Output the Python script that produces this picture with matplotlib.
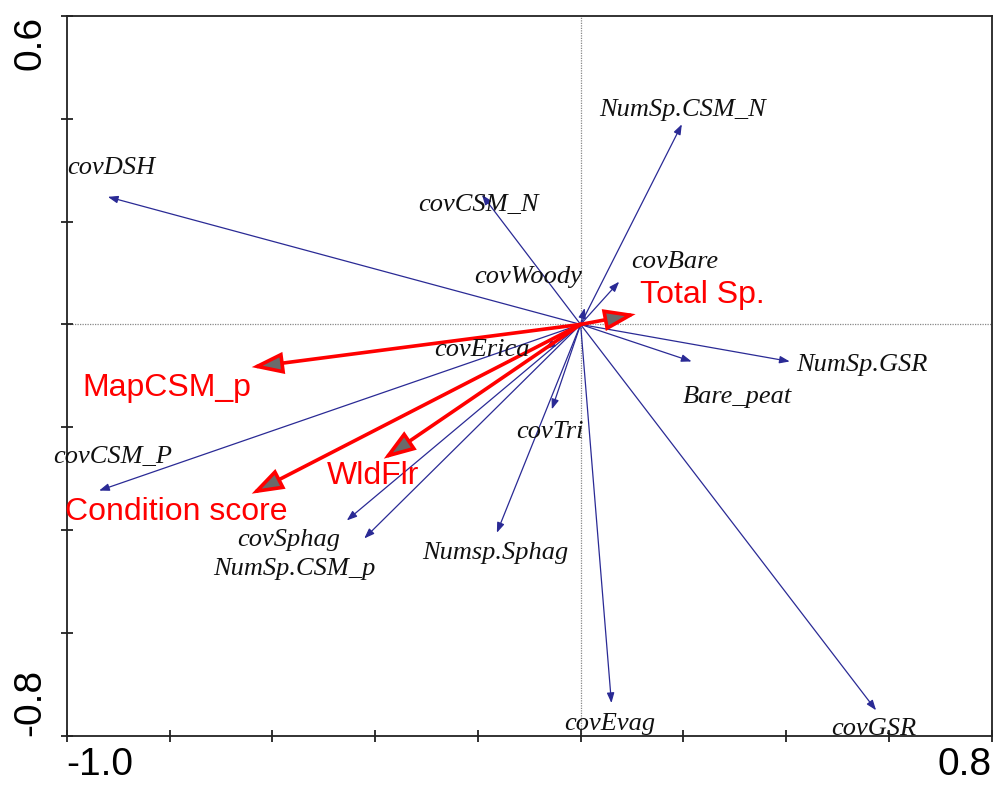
import numpy as np
import matplotlib
matplotlib.use("Agg")
import matplotlib.pyplot as plt

# species / cover variables (blue biplot arrows)
sp_names = ["covDSH", "covCSM_N", "NumSp.CSM_N", "covWoody", "covBare",
            "covErica", "NumSp.GSR", "Bare_peat", "covCSM_P", "covSphag",
            "NumSp.CSM_p", "Numsp.Sphag", "covTri", "covEvag", "covGSR"]
sp_x = [-0.92, -0.192, 0.197, 0.008, 0.075,
        -0.069, 0.407, 0.216, -0.937, -0.455,
        -0.421, -0.163, -0.056, 0.060, 0.575]
sp_y = [0.248, 0.252, 0.389, 0.032, 0.083,
        -0.048, -0.072, -0.072, -0.323, -0.381,
        -0.416, -0.405, -0.165, -0.736, -0.750]

# environmental variables (red arrows)
env_names = ["Total Sp.", "MapCSM_p", "WldFlr", "Condition score"]
env_x = [0.107, -0.64, -0.383, -0.64]
env_y = [0.020, -0.083, -0.261, -0.329]

# where each label sits (left edge, baseline)
sp_label_xy = [(-0.999, 0.293), (-0.317, 0.221), (0.036, 0.406), (-0.208, 0.080),
               (0.098, 0.110), (-0.284, -0.062), (0.419, -0.090), (0.199, -0.152),
               (-1.027, -0.269), (-0.669, -0.430), (-0.715, -0.488), (-0.309, -0.456),
               (-0.126, -0.220), (-0.031, -0.788), (0.488, -0.798)]
env_label_xy = [(0.115, 0.041), (-0.969, -0.139), (-0.494, -0.310), (-1.003, -0.381)]

fig = plt.figure(figsize=(9.93, 7.87), dpi=100)
ax = fig.add_axes([0.0672, 0.0648, 0.9315, 0.9152])
ax.set_xlim(-1.0, 0.8)
ax.set_ylim(-0.8, 0.6)

ax.axhline(0, color="#888888", lw=0.9, ls=(0, (1, 1)), zorder=1)
ax.axvline(0, color="#888888", lw=0.9, ls=(0, (1, 1)), zorder=1)

for x, y in zip(sp_x, sp_y):
    ax.annotate("", xy=(x, y), xytext=(0, 0),
                arrowprops=dict(arrowstyle="-|>,head_length=0.6,head_width=0.22",
                                color="#2a2a95", lw=0.9, mutation_scale=10,
                                shrinkA=0, shrinkB=0), zorder=2)

for x, y in zip(env_x, env_y):
    ax.annotate("", xy=(x, y), xytext=(0, 0),
                arrowprops=dict(arrowstyle="-|>,head_length=1.8,head_width=0.62",
                                fc="#6a6a6a", ec="red", lw=2.6, mutation_scale=10,
                                shrinkA=0, shrinkB=0, joinstyle="miter"), zorder=3)

for name, (lx, ly) in zip(sp_names, sp_label_xy):
    ax.text(lx, ly, name, family="Liberation Serif", style="italic", fontsize=19,
            color="#111111", ha="left", va="baseline", clip_on=False, zorder=4)

for name, (lx, ly) in zip(env_names, env_label_xy):
    ax.text(lx, ly, name, family="Liberation Sans", fontsize=23, color="red",
            ha="left", va="baseline", clip_on=False, zorder=4)

xt = np.round(np.arange(-1.0, 0.81, 0.2), 1)
yt = np.round(np.arange(-0.8, 0.61, 0.2), 1)
ax.set_xticks(xt, ["-1.0"] + [""] * (len(xt) - 2) + ["0.8"])
ax.set_yticks(yt, ["-0.8"] + [""] * (len(yt) - 2) + ["0.6"])
ax.tick_params(direction="inout", length=8, width=1.3, color="#222222",
               labelsize=28, top=False, right=False)
ax.tick_params(axis="x", pad=4)
ax.tick_params(axis="y", pad=9)
for lab in ax.get_xticklabels():
    lab.set_family("Liberation Sans")
xl = ax.get_xticklabels()
xl[0].set_ha("left")
xl[-1].set_ha("right")
for lab in ax.get_yticklabels():
    lab.set_family("Liberation Sans")
    lab.set_rotation(90)
yl = ax.get_yticklabels()
yl[0].set_va("bottom")
yl[-1].set_va("top")

for s in ax.spines.values():
    s.set_color("#222222")
    s.set_linewidth(1.3)

fig.savefig("out.png", dpi=100)
